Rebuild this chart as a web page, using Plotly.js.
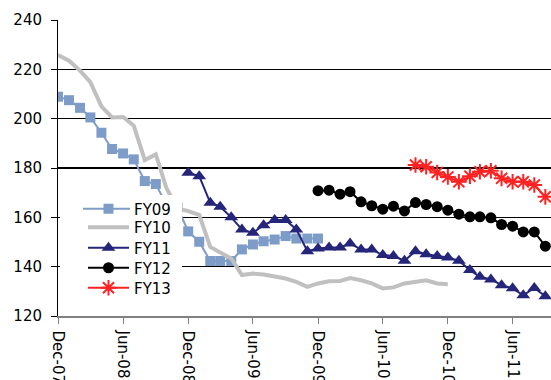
<!DOCTYPE html>
<html>
<head>
<meta charset="utf-8">
<script src="https://cdn.plot.ly/plotly-3.0.1.min.js"></script>
<style>
  html, body { margin: 0; padding: 0; overflow: hidden; background: #fff; }
  #chart { width: 561px; height: 420px; }
</style>
</head>
<body>
<div id="chart"></div>
<script>
// Monthly time axis shared by all series
const months = [
  '2007-12-01', '2008-01-01', '2008-02-01', '2008-03-01', '2008-04-01', '2008-05-01',
  '2008-06-01', '2008-07-01', '2008-08-01', '2008-09-01', '2008-10-01', '2008-11-01',
  '2008-12-01', '2009-01-01', '2009-02-01', '2009-03-01', '2009-04-01', '2009-05-01',
  '2009-06-01', '2009-07-01', '2009-08-01', '2009-09-01', '2009-10-01', '2009-11-01',
  '2009-12-01', '2010-01-01', '2010-02-01', '2010-03-01', '2010-04-01', '2010-05-01',
  '2010-06-01', '2010-07-01', '2010-08-01', '2010-09-01', '2010-10-01', '2010-11-01',
  '2010-12-01', '2011-01-01', '2011-02-01', '2011-03-01', '2011-04-01', '2011-05-01',
  '2011-06-01', '2011-07-01', '2011-08-01', '2011-09-01'
];

const tickDates = ['2007-12-01', '2008-06-01', '2008-12-01', '2009-06-01',
                   '2009-12-01', '2010-06-01', '2010-12-01', '2011-06-01'];
const tickLabels = ['Dec-07', 'Jun-08', 'Dec-08', 'Jun-09',
                    'Dec-09', 'Jun-10', 'Dec-10', 'Jun-11'];
const yTicks = [120, 140, 160, 180, 200, 220, 240];

// Series: first month index into `months`, then monthly values
const fy09Start = 0;
const fy09 = [208.9, 207.5, 204.4, 200.5, 194.3, 187.7, 185.9, 183.5, 174.7, 173.5,
              165.0, 164.0, 154.3, 150.1, 142.3, 142.3, 142.3, 147.0, 149.0, 150.3,
              151.0, 152.4, 151.4, 151.4, 151.4];

const fy10Start = 0;
const fy10 = [225.8, 223.5, 219.5, 214.8, 205.0, 200.5, 200.7, 197.2, 183.2, 185.5,
              171.8, 163.6, 162.5, 161.0, 148.0, 145.6, 143.3, 136.6, 137.2, 136.8,
              136.0, 135.2, 133.8, 131.8, 133.2, 134.1, 134.2, 135.4, 134.5, 133.2,
              131.2, 131.6, 133.2, 133.9, 134.5, 133.2, 132.9];

const fy11Start = 12;
const fy11 = [178.1, 176.7, 165.9, 164.3, 160.0, 155.1, 153.7, 156.8, 158.9, 158.9,
              155.1, 146.3, 147.4, 147.8, 147.8, 149.4, 147.0, 147.0, 144.7, 144.3,
              142.4, 146.3, 145.0, 144.3, 143.7, 142.4, 138.6, 135.9, 134.8, 132.5,
              131.2, 128.4, 131.4, 128.0];

const fy12Start = 24;
const fy12 = [170.8, 171.0, 169.4, 170.4, 166.3, 164.7, 163.3, 164.5, 162.6, 166.0,
              165.2, 164.3, 162.9, 161.3, 160.2, 160.2, 159.8, 157.1, 156.4, 154.1,
              154.1, 148.3];

const fy13Start = 33;
const fy13 = [181.2, 180.5, 178.2, 176.4, 174.4, 176.7, 178.5, 178.9, 175.8, 174.4,
              174.4, 173.1, 168.3];

function series(name, legendId, start, values, style) {
  return Object.assign({
    type: 'scatter',
    name: name,
    legend: legendId,
    x: months.slice(start, start + values.length),
    y: values,
    hoverinfo: 'skip'
  }, style);
}

const traces = [
  series('FY09', 'legend', fy09Start, fy09, {
    mode: 'lines+markers',
    line: { color: '#7E9CC8', width: 2 },
    marker: { symbol: 'square', size: 10, color: '#7E9CC8' }
  }),
  series('FY10', 'legend2', fy10Start, fy10, {
    mode: 'lines',
    line: { color: '#C0C0C0', width: 4 }
  }),
  series('FY11', 'legend3', fy11Start, fy11, {
    mode: 'lines+markers',
    line: { color: '#25257A', width: 2 },
    marker: { symbol: 'triangle-up', size: 12, color: '#25257A' }
  }),
  series('FY12', 'legend4', fy12Start, fy12, {
    mode: 'lines+markers',
    line: { color: '#000000', width: 2 },
    marker: { symbol: 'circle', size: 11, color: '#000000' }
  }),
  series('FY13', 'legend5', fy13Start, fy13, {
    mode: 'lines+markers',
    line: { color: '#FF2222', width: 2 },
    marker: { symbol: 'asterisk-open', size: 13, color: '#FF2222',
              line: { color: '#FF2222', width: 2 } }
  })
];

// one legend entry per box so the rows sit at the spacing wanted
function legendRow(yCenter) {
  return {
    x: 0.0502, y: yCenter, xanchor: 'left', yanchor: 'middle',
    bgcolor: 'rgba(255,255,255,0)', borderwidth: 0,
    itemwidth: 41,
    font: { family: 'DejaVu Sans, sans-serif', size: 15, color: '#000000' }
  };
}

const layout = {
  width: 561,
  height: 420,
  margin: { l: 58, r: 5, t: 20, b: 104, pad: 0 },
  paper_bgcolor: '#ffffff',
  plot_bgcolor: '#ffffff',
  font: { family: 'DejaVu Sans, sans-serif', size: 15, color: '#000000' },
  showlegend: true,
  legend: legendRow(0.3615),
  legend2: legendRow(0.299),
  legend3: legendRow(0.2297),
  legend4: legendRow(0.1622),
  legend5: legendRow(0.0946),
  xaxis: {
    type: 'date',
    range: ['2007-12-01', '2011-10-01'],
    tickvals: tickDates,
    ticktext: tickLabels,
    tickangle: 90,
    ticks: 'outside', ticklen: 6, tickcolor: '#808080', tickwidth: 1,
    showline: true, linecolor: '#808080', linewidth: 1.5,
    showgrid: false, zeroline: false,
    ticklabelstandoff: 4
  },
  yaxis: {
    range: [120, 240],
    tickvals: yTicks,
    ticks: 'outside', ticklen: 6, tickcolor: '#000000', tickwidth: 1,
    showline: true, linecolor: '#000000', linewidth: 1,
    showgrid: true, gridcolor: '#000000', gridwidth: 1.5,
    zeroline: false,
    ticklabelstandoff: 6
  },
  // white backing panel behind the legend, hiding the lines it sits on
  shapes: [{
    type: 'rect', xref: 'paper', yref: 'paper',
    x0: 0.004, x1: 0.249, y0: 0.06, y1: 0.409,
    fillcolor: '#ffffff', line: { width: 0 }, layer: 'above'
  }]
};

Plotly.newPlot('chart', traces, layout, { staticPlot: true, displayModeBar: false })
  .then(function () {
    // longer legend line samples
    document.querySelectorAll('.legend .legendlines path').forEach(function (p) {
      p.setAttribute('d', 'M-7,0h54');
    });
  });
</script>
</body>
</html>
